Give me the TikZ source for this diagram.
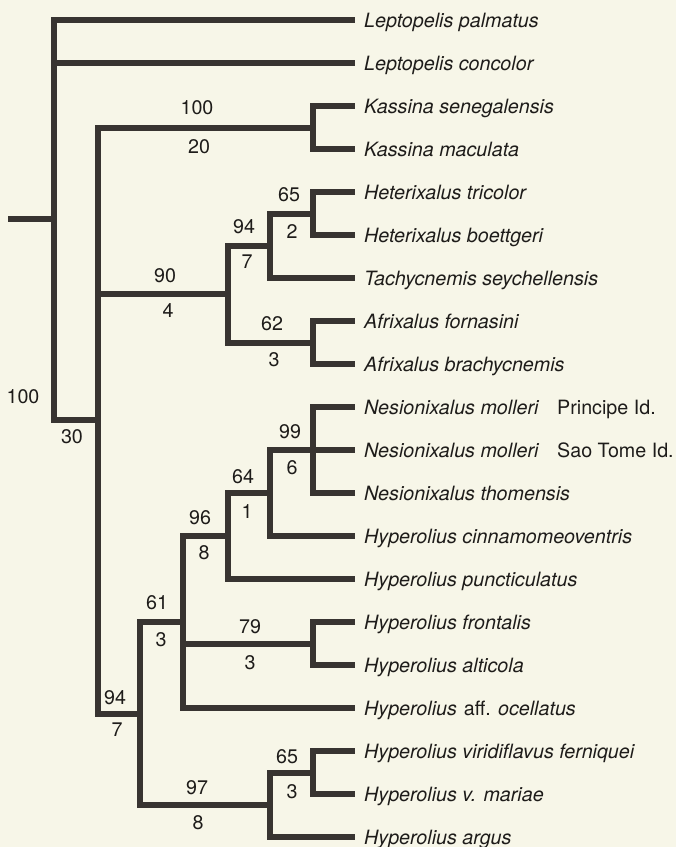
\documentclass[tikz,border=0pt]{standalone}
\usepackage{fontspec}
\setmainfont{TeX Gyre Heros}
\definecolor{bg}{HTML}{F7F6E8}
\definecolor{ln}{HTML}{383431}
\definecolor{tx}{HTML}{1E1C1A}
\begin{document}
\begin{tikzpicture}[x=1pt,y=-1pt,
  branch/.style={draw=ln,line width=6pt,line join=miter},
  taxon/.style={anchor=base west,inner sep=0pt,text=tx,font=\fontsize{19.7}{24}\selectfont\itshape},
  place/.style={anchor=base west,inner sep=0pt,text=tx,font=\fontsize{19.7}{24}\selectfont},
  supp/.style={inner sep=0pt,text=tx,font=\fontsize{19.7}{24}\selectfont}]
\fill[bg] (0,0) rectangle (676,847);
\useasboundingbox (0,0) rectangle (676,847);

% leaf tips
\coordinate (t1) at (355,20);
\coordinate (t2) at (355,63);
\coordinate (t3) at (355,106);
\coordinate (t4) at (355,149);
\coordinate (t5) at (355,192);
\coordinate (t6) at (355,235);
\coordinate (t7) at (355,278);
\coordinate (t8) at (355,321);
\coordinate (t9) at (355,364);
\coordinate (t10) at (355,407);
\coordinate (t11) at (355,450);
\coordinate (t12) at (355,493);
\coordinate (t13) at (355,536);
\coordinate (t14) at (355,579);
\coordinate (t15) at (355,622);
\coordinate (t16) at (355,665);
\coordinate (t17) at (355,708);
\coordinate (t18) at (355,751);
\coordinate (t19) at (355,794);
\coordinate (t20) at (355,837);

% internal nodes
\coordinate (S) at (8,219);
\coordinate (R) at (54,219);
\coordinate (G) at (98,420);
\coordinate (K) at (313,127.5);
\coordinate (A90) at (228,294);
\coordinate (H94) at (270,246);
\coordinate (Het) at (313,213.5);
\coordinate (Afr) at (313,342.5);
\coordinate (B94) at (140,713.5);
\coordinate (N61) at (183,622);
\coordinate (N96) at (228,536);
\coordinate (N64) at (270,493);
\coordinate (N99) at (313,450);
\coordinate (N79) at (313,643.5);
\coordinate (N97) at (270,805);
\coordinate (N65) at (313,772.5);

% branches
\draw[branch] (S) -- (R);
\draw[branch] (R) |- (t1);
\draw[branch] (R) |- (t2);
\draw[branch] (R) |- (G);
\draw[branch] (G) |- (K);
\draw[branch] (G) |- (A90);
\draw[branch] (G) |- (B94);
\draw[branch] (K) |- (t3);
\draw[branch] (K) |- (t4);
\draw[branch] (A90) |- (H94);
\draw[branch] (A90) |- (Afr);
\draw[branch] (H94) |- (Het);
\draw[branch] (H94) |- (t7);
\draw[branch] (Het) |- (t5);
\draw[branch] (Het) |- (t6);
\draw[branch] (Afr) |- (t8);
\draw[branch] (Afr) |- (t9);
\draw[branch] (B94) |- (N61);
\draw[branch] (B94) |- (N97);
\draw[branch] (N61) |- (N96);
\draw[branch] (N61) |- (N79);
\draw[branch] (N61) |- (t17);
\draw[branch] (N96) |- (N64);
\draw[branch] (N96) |- (t14);
\draw[branch] (N64) |- (N99);
\draw[branch] (N64) |- (t13);
\draw[branch] (N99) |- (t10);
\draw[branch] (N99) |- (t11);
\draw[branch] (N99) |- (t12);
\draw[branch] (N79) |- (t15);
\draw[branch] (N79) |- (t16);
\draw[branch] (N97) |- (N65);
\draw[branch] (N97) |- (t20);
\draw[branch] (N65) |- (t18);
\draw[branch] (N65) |- (t19);

% taxa
\node[taxon] (n1) at (364,27) {Leptopelis palmatus};
\node[taxon] (n2) at (364,70) {Leptopelis concolor};
\node[taxon] (n3) at (364,113) {Kassina senegalensis};
\node[taxon] (n4) at (364,156) {Kassina maculata};
\node[taxon] (n5) at (364,199) {Heterixalus tricolor};
\node[taxon] (n6) at (364,242) {Heterixalus boettgeri};
\node[taxon] (n7) at (364,285) {Tachycnemis seychellensis};
\node[taxon] (n8) at (364,328) {Afrixalus fornasini};
\node[taxon] (n9) at (364,371) {Afrixalus brachycnemis};
\node[taxon] (n10) at (364,414) {Nesionixalus molleri};
\node[place] (p10) at (557,414) {Principe Id.};
\node[taxon] (n11) at (364,457) {Nesionixalus molleri};
\node[place] (p11) at (557,457) {Sao Tome Id.};
\node[taxon] (n12) at (364,500) {Nesionixalus thomensis};
\node[taxon] (n13) at (364,543) {Hyperolius cinnamomeoventris};
\node[taxon] (n14) at (364,586) {Hyperolius puncticulatus};
\node[taxon] (n15) at (364,629) {Hyperolius frontalis};
\node[taxon] (n16) at (364,672) {Hyperolius alticola};
\node[taxon] (n17) at (364,715) {Hyperolius\hspace{0.35em}{\upshape aff.} ocellatus};
\node[taxon] (n18) at (364,758) {Hyperolius viridiflavus ferniquei};
\node[taxon] (n19) at (364,801) {Hyperolius v. mariae};
\node[taxon] (n20) at (364,844) {Hyperolius argus};

% support values
\node[supp] (sR1) at (23,397) {100};
\node[supp] (sR2) at (72,437) {30};
\node[supp] (sK1) at (197,108) {100};
\node[supp] (sK2) at (199,147) {20};
\node[supp] (sHe1) at (289,195) {65};
\node[supp] (sHe2) at (292,232) {2};
\node[supp] (sH1) at (244,227) {94};
\node[supp] (sH2) at (247,262) {7};
\node[supp] (sA1) at (165,276) {90};
\node[supp] (sA2) at (168,311) {4};
\node[supp] (sAf1) at (272,324) {62};
\node[supp] (sAf2) at (274,360) {3};
\node[supp] (s991) at (290,432) {99};
\node[supp] (s992) at (292,468) {6};
\node[supp] (s641) at (243,477) {64};
\node[supp] (s642) at (247,512) {1};
\node[supp] (s961) at (200,518) {96};
\node[supp] (s962) at (204,553) {8};
\node[supp] (s611) at (157,603) {61};
\node[supp] (s612) at (161,640) {3};
\node[supp] (s791) at (250,627) {79};
\node[supp] (s792) at (250,663) {3};
\node[supp] (sB1) at (115,698) {94};
\node[supp] (sB2) at (117,730) {7};
\node[supp] (s651) at (287,757) {65};
\node[supp] (s652) at (292,792) {3};
\node[supp] (s971) at (197,788) {97};
\node[supp] (s972) at (198,823) {8};
\end{tikzpicture}
\end{document}
